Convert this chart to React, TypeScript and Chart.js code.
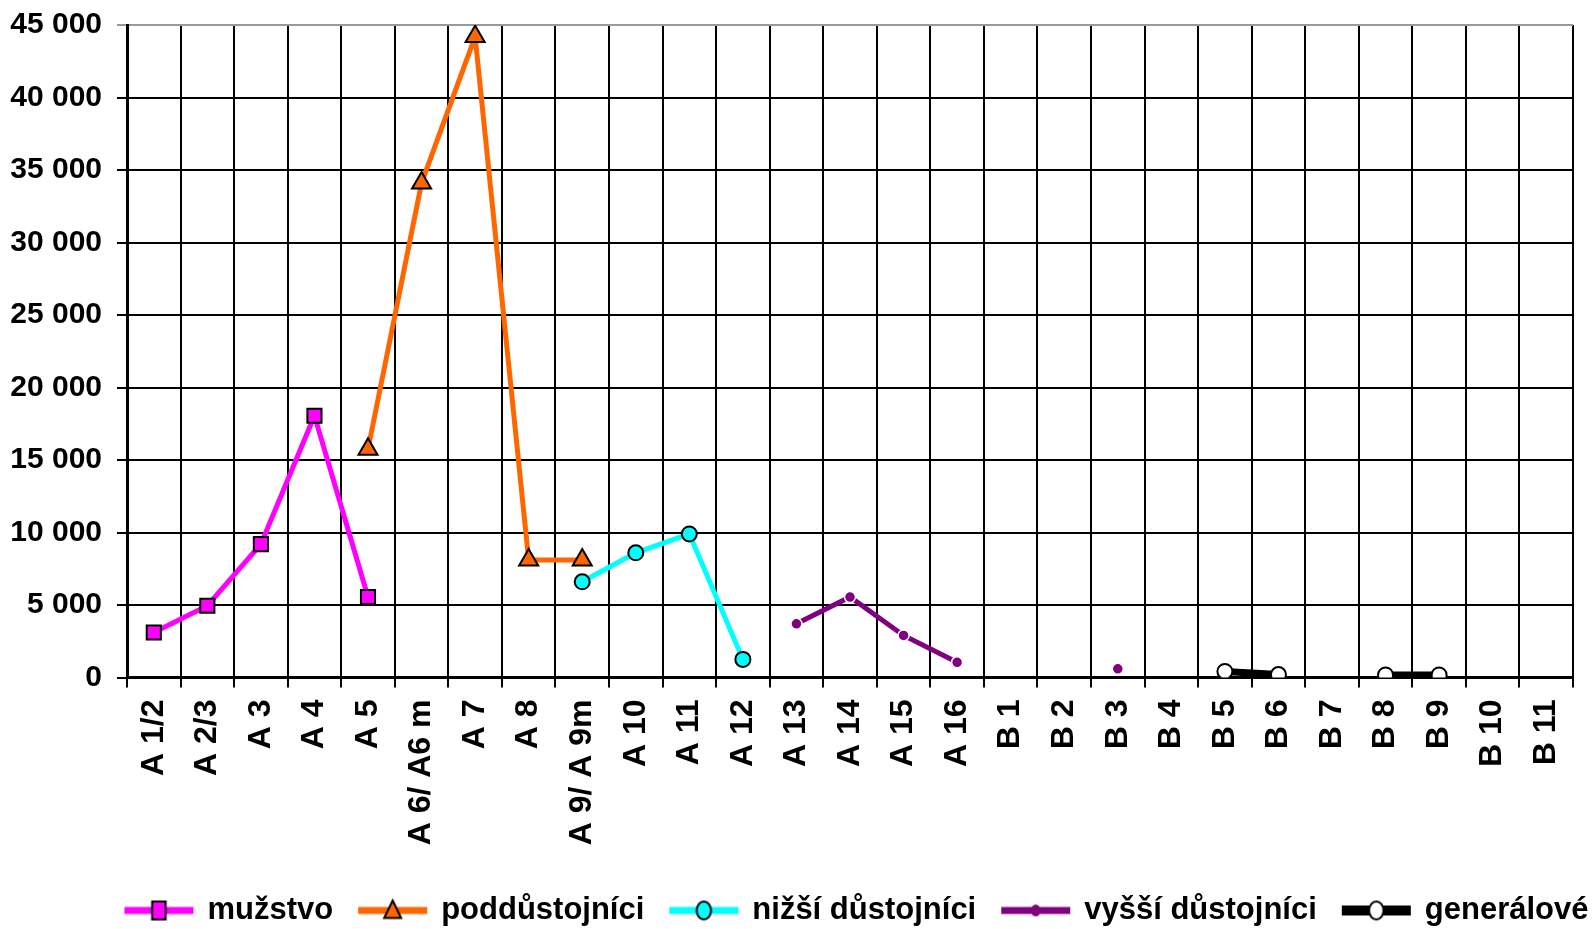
import React, { useEffect, useRef } from 'react';
import { Chart, registerables } from 'chart.js';

Chart.register(...registerables);

const categories = [
  'A 1/2', 'A 2/3', 'A 3', 'A 4', 'A 5', 'A 6/ A6 m', 'A 7', 'A 8', 'A 9/ A 9m',
  'A 10', 'A 11', 'A 12', 'A 13', 'A 14', 'A 15', 'A 16',
  'B 1', 'B 2', 'B 3', 'B 4', 'B 5', 'B 6', 'B 7', 'B 8', 'B 9', 'B 10', 'B 11',
];

const muzstvo = [3100, 4950, 9200, 18050, 5550, null, null, null, null, null, null, null, null, null, null, null, null, null, null, null, null, null, null, null, null, null, null];
const poddustojnici = [null, null, null, null, 15750, 34100, 44200, 8100, 8100, null, null, null, null, null, null, null, null, null, null, null, null, null, null, null, null, null, null];
const nizsiDustojnici = [null, null, null, null, null, null, null, null, 6600, 8600, 9900, 1250, null, null, null, null, null, null, null, null, null, null, null, null, null, null, null];
const vyssiDustojnici = [null, null, null, null, null, null, null, null, null, null, null, null, 3700, 5550, 2900, 1050, null, null, 600, null, null, null, null, null, null, null, null];
const generalove = [null, null, null, null, null, null, null, null, null, null, null, null, null, null, null, null, null, null, null, null, 420, 200, null, 180, 180, null, null];

const seriesNames = ['mužstvo', 'poddůstojníci', 'nižší důstojníci', 'vyšší důstojníci', 'generálové'];
const yTicks = [0, 5000, 10000, 15000, 20000, 25000, 30000, 35000, 40000, 45000];

const FONT = "'Liberation Sans', Arial, Helvetica, sans-serif";

function formatNum(v: number) {
  return String(v).replace(/\B(?=(\d{3})+(?!\d))/g, ' ');
}

function drawMarker(ctx: CanvasRenderingContext2D, style: string, x: number, y: number, r: number, fill: string, stroke: string, bw: number) {
  ctx.fillStyle = fill;
  ctx.strokeStyle = stroke;
  ctx.lineWidth = bw;
  ctx.beginPath();
  if (style === 'rect') {
    ctx.rect(x - r * 0.75, y - r, r * 1.5, r * 2);
  } else if (style === 'triangle') {
    ctx.moveTo(x, y - r);
    ctx.lineTo(x + r * 0.85, y + r * 0.75);
    ctx.lineTo(x - r * 0.85, y + r * 0.75);
    ctx.closePath();
  } else {
    ctx.ellipse(x, y, r * 0.8, r, 0, 0, Math.PI * 2);
  }
  ctx.fill();
  if (bw > 0) ctx.stroke();
}

function legendImage(color: string, lw: number, style: string, r: number, fill: string, stroke: string, bw: number) {
  const c = document.createElement('canvas');
  c.width = 92;
  c.height = 30;
  const ctx = c.getContext('2d')!;
  ctx.strokeStyle = color;
  ctx.lineWidth = lw;
  ctx.beginPath();
  ctx.moveTo(21, 15);
  ctx.lineTo(90, 15);
  ctx.stroke();
  drawMarker(ctx, style, 55.5, 15, r, fill, stroke, bw);
  return c;
}

export default function App() {
  const ref = useRef<HTMLCanvasElement>(null);

  useEffect(() => {
    if (!ref.current) return;
    const legendImgs = [
      legendImage('#FF00FF', 7, 'rect', 9, '#FF00FF', '#000000', 2),
      legendImage('#FF6600', 7, 'triangle', 10, '#FF6600', '#000000', 2),
      legendImage('#00FFFF', 7, 'circle', 9, '#00FFFF', '#000000', 2),
      legendImage('#800080', 7, 'circle', 6, '#800080', '#800080', 0),
      legendImage('#000000', 10, 'circle', 9, '#FFFFFF', '#000000', 2),
    ];

    const chart = new Chart(ref.current, {
      type: 'line',
      data: {
        labels: categories,
        datasets: [
          {
            label: seriesNames[0], data: muzstvo, borderColor: '#FF00FF', backgroundColor: '#FF00FF',
            borderWidth: 5, pointStyle: 'rect', pointRadius: 10, pointBackgroundColor: '#FF00FF',
            pointBorderColor: '#000000', pointBorderWidth: 2, spanGaps: false, tension: 0,
          },
          {
            label: seriesNames[1], data: poddustojnici, borderColor: '#FF6600', backgroundColor: '#FF6600',
            borderWidth: 5, pointStyle: 'triangle', pointRadius: 11, pointBackgroundColor: '#FF6600',
            pointBorderColor: '#000000', pointBorderWidth: 2, spanGaps: false, tension: 0,
          },
          {
            label: seriesNames[2], data: nizsiDustojnici, borderColor: '#00FFFF', backgroundColor: '#00FFFF',
            borderWidth: 5, pointStyle: 'circle', pointRadius: 7.5, pointBackgroundColor: '#00FFFF',
            pointBorderColor: '#000000', pointBorderWidth: 2, spanGaps: false, tension: 0,
          },
          {
            label: seriesNames[3], data: vyssiDustojnici, borderColor: '#800080', backgroundColor: '#800080',
            borderWidth: 5, pointStyle: 'circle', pointRadius: 5.5, pointBackgroundColor: '#800080',
            pointBorderColor: '#FFFFFF', pointBorderWidth: 1.5, spanGaps: false, tension: 0,
          },
          {
            label: seriesNames[4], data: generalove, borderColor: '#000000', backgroundColor: '#000000',
            borderWidth: 7, pointStyle: 'circle', pointRadius: 7.5, pointBackgroundColor: '#FFFFFF',
            pointBorderColor: '#000000', pointBorderWidth: 2, spanGaps: false, tension: 0,
          },
        ],
      },
      options: {
        animation: false,
        responsive: false,
        maintainAspectRatio: false,
        layout: { padding: { left: 0, right: 0, top: 25, bottom: -7 } },
        plugins: {
          tooltip: { enabled: false },
          legend: {
            position: 'bottom',
            align: 'end',
            labels: {
              usePointStyle: true,
              pointStyleWidth: 85,
              padding: 7.5,
              color: '#000000',
              font: { family: FONT, size: 31, weight: 'bold' },
              generateLabels: () =>
                seriesNames.map((name, i) => ({
                  text: name,
                  pointStyle: legendImgs[i] as any,
                  fillStyle: 'rgba(0,0,0,0)',
                  strokeStyle: 'rgba(0,0,0,0)',
                  lineWidth: 0,
                  hidden: false,
                  datasetIndex: i,
                  fontColor: '#000000',
                })),
            },
          },
        },
        scales: {
          x: {
            type: 'category',
            offset: true,
            grid: {
              offset: true,
              color: (ctx: any) => (ctx.index === categories.length ? '#999999' : '#000000'),
              lineWidth: 2,
              tickLength: 10,
            },
            border: { display: true, color: '#000000', width: 3 },
            ticks: {
              autoSkip: false,
              minRotation: 90,
              maxRotation: 90,
              padding: 12,
              color: '#000000',
              font: { family: FONT, size: 32, weight: 'bold' },
            },
            afterFit: (s: any) => { s.height = 210; s.paddingLeft = 0; s.paddingRight = 0; },
          },
          y: {
            type: 'linear',
            min: 0,
            max: 45000,
            afterBuildTicks: (s: any) => { s.ticks = yTicks.map((v) => ({ value: v })); },
            grid: {
              color: (ctx: any) => (ctx.tick && ctx.tick.value === 45000 ? '#999999' : '#000000'),
              lineWidth: 2,
              tickLength: 10,
            },
            border: { display: true, color: '#000000', width: 3 },
            ticks: {
              padding: 15,
              color: '#000000',
              font: { family: FONT, size: 30, weight: 'bold' },
              callback: (v: any) => formatNum(Number(v)),
            },
            afterFit: (s: any) => { s.width = 127; s.paddingTop = 0; s.paddingBottom = 0; },
          },
          yRight: {
            type: 'linear',
            position: 'right',
            display: true,
            ticks: { display: false },
            grid: { display: false, drawTicks: false },
            border: { display: false },
            afterFit: (s: any) => { s.width = 23; s.paddingTop = 0; s.paddingBottom = 0; },
          },
        },
      },
    });
    return () => chart.destroy();
  }, []);

  return (
    <div style={{ position: 'fixed', left: 0, top: 0, width: 1596, height: 929, background: '#FFFFFF' }}>
      <canvas ref={ref} width={1596} height={929} style={{ display: 'block', width: 1596, height: 929 }} />
    </div>
  );
}
